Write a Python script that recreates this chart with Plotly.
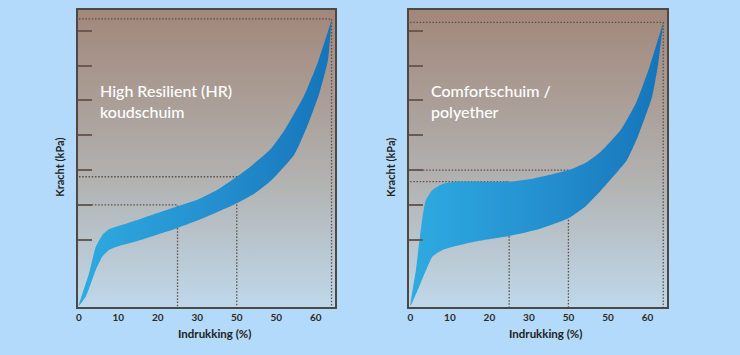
import plotly.graph_objects as go

# ---------------- data ----------------
# High Resilient (HR) koudschuim: band of force vs. indentation
hr_upper_x = [0, 2.6, 4.3, 6.0, 7.65, 10.2, 16.1, 25, 30, 35, 40, 44, 48.7, 52.1, 57.1, 60.5, 64]
hr_upper_y = [0.1, 1.04, 1.80, 2.14, 2.30, 2.40, 2.62, 2.96, 3.15, 3.43, 3.81, 4.15, 4.62, 5.15, 6.15, 7.08, 8.3]
hr_lower_x = [0, 1.77, 4.29, 5.98, 7.65, 10.2, 16.1, 25, 31.9, 40, 44.5, 48.7, 54.6, 58.0, 60.9, 63.1, 64]
hr_lower_y = [0.1, 0.37, 1.13, 1.52, 1.71, 1.82, 2.01, 2.34, 2.64, 3.05, 3.33, 3.70, 4.45, 5.3, 6.2, 7.16, 8.3]

# Comfortschuim / polyether
cf_upper_x = [0, 1.39, 3.08, 3.91, 5.6, 8.13, 11.5, 25, 31.3, 40, 44.5, 48.1, 53.2, 57.2, 60.5, 64]
cf_upper_y = [0.1, 1.13, 2.66, 3.14, 3.43, 3.60, 3.67, 3.67, 3.76, 4.0, 4.22, 4.52, 5.15, 5.95, 6.95, 8.24]
cf_lower_x = [0, 2.22, 5.6, 8.13, 11.5, 17.4, 25, 31.7, 40, 44.5, 48.1, 54.8, 57.7, 61.2, 62.8, 64]
cf_lower_y = [0.1, 0.65, 1.52, 1.71, 1.82, 1.97, 2.11, 2.28, 2.62, 2.98, 3.40, 4.29, 5.0, 6.11, 7.1, 8.24]

# reference indentations marked with dotted lines (25 %, 40 %, 64 %)
mark_x = [25, 40, 64]
hr_mark_y = [3.0, 3.81, 8.34]
cf_mark_y = [3.67, 4.0, 8.24]

x_tickvals = [0, 10, 20, 30, 40, 50, 60]
x_ticktext = ["0", "10", "20", "30", "50", "50", "60"]
y_tickvals = [2, 3, 4, 5, 6, 7, 8]

titles = ["High Resilient (HR)<br>koudschuim", "Comfortschuim /<br>polyether"]
x_title = "Indrukking (%)"
y_title = "Kracht (kPa)"

# ---------------- styling ----------------
W, H = 740, 355
PAPER = "#b3dafa"
DOT = "#5c4f49"
FRAME = "#4e4845"
FONT = "Lato"

x_ranges = [[-0.25, 64.9], [-0.38, 65.0]]
y_range = [0.072, 8.594]
panels_px = [(76, 334), (408, 667)]
top_px, bottom_px = 10, 307

fig = go.Figure()

panels = [
    (hr_upper_x, hr_upper_y, hr_lower_x, hr_lower_y, hr_mark_y),
    (cf_upper_x, cf_upper_y, cf_lower_x, cf_lower_y, cf_mark_y),
]

for i, (ux, uy, lx, ly, my) in enumerate(panels):
    xa = "x" if i == 0 else "x2"
    ya = "y" if i == 0 else "y2"
    xr = x_ranges[i]
    # background gradient (brown at top to pale blue at bottom)
    fig.add_trace(go.Scatter(
        x=[xr[0], xr[1], xr[1], xr[0]], y=[y_range[0], y_range[0], y_range[1], y_range[1]],
        fill="toself", mode="lines", line=dict(width=0),
        fillgradient=dict(type="vertical", start=y_range[0], stop=y_range[1],
                          colorscale=[[0, "#bfd8ea"], [0.45, "#b1b0ae"], [1, "#a2877a"]]),
        hoverinfo="skip", xaxis=xa, yaxis=ya,
    ))
    # dotted guide lines
    for mx, mv in zip(mark_x, my):
        fig.add_trace(go.Scatter(
            x=[xr[0] + 0.3, mx, mx], y=[mv, mv, y_range[0]],
            mode="lines", line=dict(color=DOT, width=1.3, dash="1.5px,1.7px"),
            hoverinfo="skip", xaxis=xa, yaxis=ya,
        ))
    # band
    fig.add_trace(go.Scatter(
        x=list(ux) + list(lx[::-1]), y=list(uy) + list(ly[::-1]),
        fill="toself", mode="lines", line=dict(width=0, shape="spline", smoothing=0.5),
        fillgradient=dict(type="horizontal", start=0, stop=64,
                          colorscale=[[0, "#2eabe1"], [0.5, "#2591d0"], [1, "#1574ba"]]),
        hoverinfo="skip", xaxis=xa, yaxis=ya,
    ))

axis_common = dict(showgrid=False, zeroline=False, showline=True, linecolor=FRAME,
                   linewidth=2, mirror=True)
for i in range(2):
    x0, x1 = panels_px[i]
    suffix = "" if i == 0 else "2"
    fig.layout["xaxis" + suffix] = dict(
        axis_common, domain=[x0 / W, x1 / W], range=x_ranges[i],
        tickvals=x_tickvals, ticktext=x_ticktext, ticks="",
        tickfont=dict(family=FONT, size=10, color="#2a2a2a", weight="bold"),
        anchor="y" + suffix,
    )
    fig.layout["yaxis" + suffix] = dict(
        axis_common, domain=[(H - bottom_px) / H, (H - top_px) / H], range=y_range,
        tickvals=y_tickvals, ticks="inside", ticklen=14, tickwidth=2, tickcolor="#6a5a52",
        showticklabels=False, anchor="x" + suffix,
    )
    # panel label
    fig.add_annotation(
        x=(x0 + 20) / W, y=(H - 101) / H, xref="paper", yref="paper",
        xanchor="left", yanchor="middle", align="left", showarrow=False,
        text=titles[i], font=dict(family=FONT, size=16, color="white", weight=500),
    )
    # axis titles
    fig.add_annotation(
        x=(x0 + 137) / W, y=(H - 333) / H, xref="paper", yref="paper",
        xanchor="center", yanchor="middle", showarrow=False, text=x_title,
        font=dict(family=FONT, size=11.5, color="#222222", weight="bold"),
    )
    fig.add_annotation(
        x=(x0 - 19) / W, y=(H - 167) / H, xref="paper", yref="paper",
        xanchor="center", yanchor="middle", showarrow=False, text=y_title, textangle=-90,
        font=dict(family=FONT, size=11, color="#222222", weight="bold"),
    )

fig.update_layout(
    width=W, height=H, margin=dict(l=0, r=0, t=0, b=0),
    paper_bgcolor=PAPER, plot_bgcolor=PAPER, showlegend=False,
)

fig.write_html(
    "out.html",
    config={"displayModeBar": False},
    post_script="document.body.style.margin='0';document.body.style.background='#b3dafa';",
)
